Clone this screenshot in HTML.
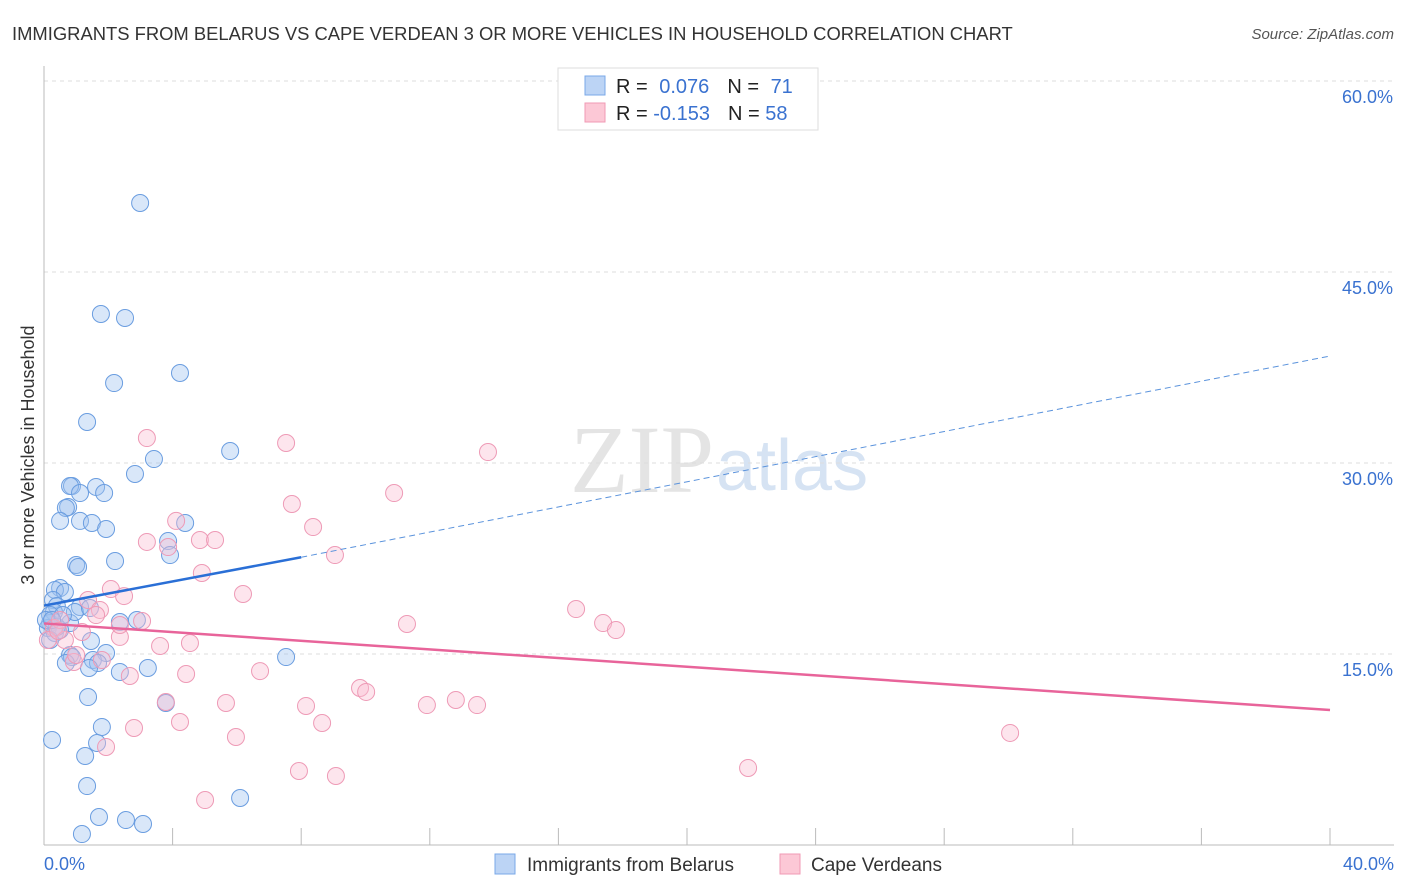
<!DOCTYPE html>
<html><head><meta charset="utf-8"><style>
body{margin:0;background:#fff;font-family:"Liberation Sans",sans-serif;}
svg{display:block}
</style></head><body>
<svg id="c" width="1406" height="892">
<text x="12" y="40" font-size="18.4" fill="#333">IMMIGRANTS FROM BELARUS VS CAPE VERDEAN 3 OR MORE VEHICLES IN HOUSEHOLD CORRELATION CHART</text>
<text x="1394" y="39" font-size="15" fill="#555" font-style="italic" text-anchor="end">Source: ZipAtlas.com</text>
<text x="714" y="492" font-size="96" fill="#e4e4e4" font-family="Liberation Serif,serif" text-anchor="end">ZIP</text>
<text x="716" y="490" font-size="72" fill="#d6e3f3">atlas</text>
<text transform="translate(34,455) rotate(-90)" font-size="18" fill="#333" text-anchor="middle">3 or more Vehicles in Household</text>
<g id="grid"></g><g id="pts"></g><g id="lines"></g>
<g>
<rect x="558" y="68" width="260" height="62" fill="#fff" stroke="#ddd"/>
<rect x="585" y="76" width="20" height="19" fill="#bcd4f5" stroke="#7aa8e8"/>
<rect x="585" y="103" width="20" height="19" fill="#fcc8d6" stroke="#f09ab4"/>
<text x="616" y="93" font-size="20" fill="#222">R = <tspan fill="#3a72d0" dx="6">0.076</tspan><tspan dx="18" fill="#222">N = </tspan><tspan fill="#3a72d0" dx="6">71</tspan></text>
<text x="616" y="120" font-size="20" fill="#222">R = <tspan fill="#3a72d0">-0.153</tspan><tspan dx="18" fill="#222">N = </tspan><tspan fill="#3a72d0">58</tspan></text>
</g>
<g>
<rect x="495" y="854" width="20" height="20" fill="#bcd4f5" stroke="#7aa8e8"/>
<text x="527" y="871" font-size="19" fill="#333">Immigrants from Belarus</text>
<rect x="780" y="854" width="20" height="20" fill="#fcc8d6" stroke="#f09ab4"/>
<text x="811" y="871" font-size="19" fill="#333">Cape Verdeans</text>
</g>
</svg>
<script>
const yTicks=[15,30,45,60];
const xLabels=["0.0%","40.0%"];
const blueX=[];const blueY=[];const pinkX=[];const pinkY=[];
const bluePx=[[140,203],[101,314],[125,318],[114,383],[180,373],[87,422],[230,451],[154,459],[135,474],[72,486],[70,486],[96,487],[80,493],[104,493],[68,507],[66,508],[60,521],[80,521],[92,523],[106,529],[185,523],[168,541],[170,555],[115,561],[76,565],[78,567],[60,588],[55,590],[65,592],[53,600],[57,606],[80,607],[54,612],[137,620],[120,622],[70,623],[50,623],[48,628],[55,633],[60,630],[91,641],[106,653],[70,655],[72,657],[93,660],[98,663],[89,668],[120,672],[148,668],[66,663],[286,657],[88,697],[166,703],[102,727],[97,743],[52,740],[85,756],[87,786],[240,798],[99,817],[126,820],[143,824],[82,834],[50,615],[46,620],[50,640],[57,627],[75,612],[63,615],[90,608],[52,620]];
const pinkPx=[[147,438],[286,443],[488,452],[394,493],[292,504],[313,527],[176,521],[200,540],[215,540],[147,542],[168,547],[335,555],[202,573],[243,594],[111,589],[124,596],[88,600],[100,610],[576,609],[603,623],[616,630],[407,624],[142,621],[96,615],[120,637],[190,643],[160,646],[82,632],[54,628],[48,640],[74,662],[102,660],[186,674],[260,671],[130,676],[360,688],[366,692],[226,703],[306,706],[427,705],[456,700],[477,705],[166,702],[180,722],[322,723],[134,728],[236,737],[106,747],[1010,733],[748,768],[299,771],[336,776],[205,800],[60,620],[65,640],[76,655],[120,625],[58,631]];
bluePx.forEach(p=>{blueX.push(+((p[0]-44)/1286*40).toFixed(2));blueY.push(+((845-p[1])/764*60).toFixed(2));});
pinkPx.forEach(p=>{pinkX.push(+((p[0]-44)/1286*40).toFixed(2));pinkY.push(+((845-p[1])/764*60).toFixed(2));});
const blueTrend=[[0,18.8],[8,22.6],[40,38.4]];
const pinkTrend=[[0,17.4],[40,10.6]];
const X=v=>44+v/40*1286, Y=v=>845-v/60*764;
const NS="http://www.w3.org/2000/svg";
function mk(t,a,p){const e=document.createElementNS(NS,t);for(const k in a)e.setAttribute(k,a[k]);p.appendChild(e);return e;}
const g=document.getElementById('grid');
yTicks.forEach(t=>{
 const l=mk('line',{x1:44,x2:1394,y1:Y(t),y2:Y(t),stroke:'#ddd','stroke-dasharray':'4,4'},g);
 
 
 const tx=mk('text',{x:1393,y:Y(t)+22,'font-size':18,fill:'#3a72d0','text-anchor':'end'},g);
 tx.textContent=t.toFixed(1)+'%';
 
 
});
mk('line',{x1:44,x2:44,y1:66,y2:845,stroke:'#bbb'},g);
mk('line',{x1:44,x2:1394,y1:845,y2:845,stroke:'#bbb'},g);
for(let i=1;i<=10;i++){mk('line',{x1:X(i*4),x2:X(i*4),y1:828,y2:845,stroke:'#bbb'},g);}
const xl0=mk('text',{x:44,y:870,'font-size':18,fill:'#3a72d0'},g);xl0.textContent=xLabels[0];


const xl1=mk('text',{x:1394,y:870,'font-size':18,fill:'#3a72d0','text-anchor':'end'},g);xl1.textContent=xLabels[1];


const P=document.getElementById('pts');
blueX.forEach((v,i)=>{const c=mk('circle',{cx:X(v),cy:Y(blueY[i]),r:8.5,fill:'rgba(160,195,240,0.4)',stroke:'#6a9de0','stroke-width':1},P);
 
 });
pinkX.forEach((v,i)=>{const c=mk('circle',{cx:X(v),cy:Y(pinkY[i]),r:8.5,fill:'rgba(250,190,210,0.4)',stroke:'#ee9ab6','stroke-width':1},P);
 
 });
const L=document.getElementById('lines');
const b1=mk('line',{x1:X(blueTrend[0][0]),y1:Y(blueTrend[0][1]),x2:X(blueTrend[1][0]),y2:Y(blueTrend[1][1]),stroke:'#2a6fd6','stroke-width':2.5},L);


const b2=mk('line',{x1:X(blueTrend[1][0]),y1:Y(blueTrend[1][1]),x2:X(blueTrend[2][0]),y2:Y(blueTrend[2][1]),stroke:'#5b93dc','stroke-width':1,'stroke-dasharray':'6,4'},L);


const p1=mk('line',{x1:X(pinkTrend[0][0]),y1:Y(pinkTrend[0][1]),x2:X(pinkTrend[1][0]),y2:Y(pinkTrend[1][1]),stroke:'#e8649a','stroke-width':2.5},L);


</script>
</body></html>
